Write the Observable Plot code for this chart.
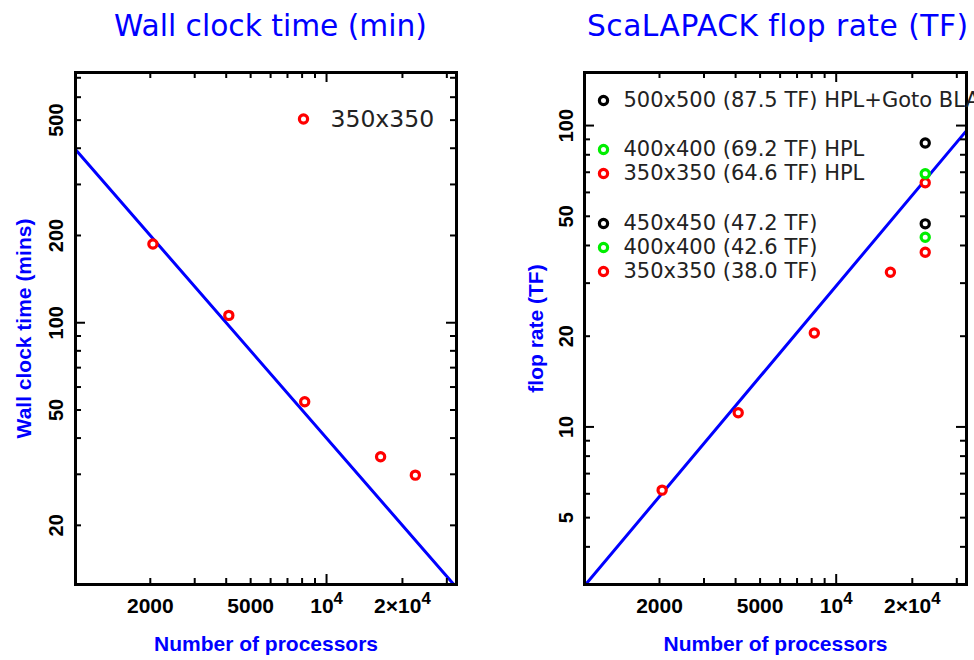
<!DOCTYPE html>
<html><head><meta charset="utf-8">
<script src="https://cdn.jsdelivr.net/npm/d3@7"></script>
<script src="https://cdn.jsdelivr.net/npm/@observablehq/plot@0.6"></script>
<style>
html,body{margin:0;padding:0;background:#fff;overflow:hidden;}
#wrap{position:relative;width:974px;height:660px;overflow:hidden;background:#fff;}
.title{position:absolute;top:11px;font-family:"DejaVu Sans",sans-serif;font-size:29.7px;line-height:1;color:#0000ff;white-space:nowrap;}
.panel{position:absolute;top:0;}
</style></head><body><div id="wrap"></div>
<script>
// ---------- data ----------
const xDomain = [1010, 32768];
const xMajorTicks = [10000];
const xMinorTicks = [2000, 3000, 4000, 5000, 6000, 7000, 8000, 9000, 20000, 30000];
const xTickValues = [2000, 5000, 10000, 20000];
const xTickText = ["2000", "5000", "10^4", "2×10^4"];

const wallDomain = [12.5, 730];
const wallMajorTicks = [100];
const wallMinorTicks = [20, 30, 40, 50, 60, 70, 80, 90, 200, 300, 400, 500, 600, 700];
const wallTickValues = [20, 50, 100, 200, 500];

const flopDomain = [3, 150];
const flopMajorTicks = [10, 100];
const flopMinorTicks = [4, 5, 6, 7, 8, 9, 20, 30, 40, 50, 60, 70, 80, 90];
const flopTickValues = [5, 10, 20, 50, 100];

const wallProcs = [2048, 4096, 8192, 16384, 22500];
const wallMins = [187, 106, 53.4, 34.5, 29.8];

const flopProcs = [2048, 4096, 8192, 16384, 22500, 22500, 22500, 22500, 22500, 22500];
const flopTF = [6.17, 11.15, 20.5, 32.6, 38.0, 42.6, 47.2, 64.6, 69.2, 87.5];
const flopGrid = ["350x350", "350x350", "350x350", "350x350", "350x350", "400x400", "450x450", "350x350", "400x400", "500x500"];

const idealProcs = [1010, 32768];
const idealMins = [396, 12.2];
const idealTF = [2.97, 96.2];

const gridNames = ["350x350", "400x400", "450x450", "500x500"];
const gridColors = ["#ff0000", "#00ee00", "#000000", "#000000"];

const wallLegendLabels = ["350x350"];
const wallLegendGrid = ["350x350"];
const flopLegendLabels = ["500x500 (87.5 TF) HPL+Goto BLAS", "400x400 (69.2 TF) HPL", "350x350 (64.6 TF) HPL",
  "450x450 (47.2 TF)", "400x400 (42.6 TF)", "350x350 (38.0 TF)"];
const flopLegendGrid = ["500x500", "400x400", "350x350", "450x450", "400x400", "350x350"];

const titles = ["Wall clock time (min)", "ScaLAPACK flop rate (TF)"];
const yLabels = ["Wall clock time (mins)", "flop rate (TF)"];
const xLabel = "Number of processors";

// ---------- layout ----------
const W = 487, H = 660, MT = 72, MB = 76;
const FRAME_H = H - MT - MB;
const BLUE = "#0000ff";
const tickFont = {fontFamily: "Liberation Sans, Arial, sans-serif", fontWeight: "bold", fill: "black"};

function frameTicks(fw, xMaj, xMin, yMaj, yMin) {
  const fh = FRAME_H, big = 10, small = 6;
  const o = {stroke: "black", strokeWidth: 2};
  return [
    Plot.tickX(xMaj, {x: d => d, insetTop: fh - big, ...o}),
    Plot.tickX(xMin, {x: d => d, insetTop: fh - small, ...o}),
    Plot.tickX(xMaj, {x: d => d, insetBottom: fh - big, ...o}),
    Plot.tickX(xMin, {x: d => d, insetBottom: fh - small, ...o}),
    Plot.tickY(yMaj, {y: d => d, insetRight: fw - big, ...o}),
    Plot.tickY(yMin, {y: d => d, insetRight: fw - small, ...o}),
    Plot.tickY(yMaj, {y: d => d, insetLeft: fw - big, ...o}),
    Plot.tickY(yMin, {y: d => d, insetLeft: fw - small, ...o})
  ];
}

function panel({ml, mr, yDomain, yMaj, yMin, yTicks, yLabel, yTickDx, yLabelDx, points, ideal, legend, legendFont, legendDots, legendTexts}) {
  const fw = W - ml - mr;
  const dotStyle = {r: 4.1, fill: "white", strokeWidth: 3.2};
  const svg = Plot.plot({
    width: W, height: H,
    marginLeft: ml, marginRight: mr, marginTop: MT, marginBottom: MB,
    x: {type: "log", domain: xDomain, axis: null},
    y: {type: "log", domain: yDomain, axis: null},
    color: {domain: gridNames, range: gridColors},
    style: {background: "white"},
    marks: [
      Plot.line(ideal, {x: "x", y: "y", stroke: BLUE, strokeWidth: 3, clip: true}),
      ...frameTicks(fw, xMajorTicks, xMinorTicks, yMaj, yMin),
      Plot.frame({stroke: "black", strokeWidth: 3}),
      Plot.dot(points, {x: "x", y: "y", stroke: "grid", ...dotStyle}),
      ...legend.map((e, i) => [
        Plot.dot([e], {frameAnchor: "top-left", dx: legendDots[i][0], dy: legendDots[i][1], stroke: "grid", ...dotStyle}),
        Plot.text([e], {frameAnchor: "top-left", dx: legendTexts[0], dy: legendDots[i][1], text: "label",
          textAnchor: "start", lineAnchor: "middle", fontSize: legendFont, fill: "#222",
          fontFamily: "DejaVu Sans, sans-serif"})
      ]).flat(),
      Plot.text(xTickValues, {x: d => d, text: (d, i) => xTickText[i], frameAnchor: "bottom", dy: 28,
        lineAnchor: "bottom", textAnchor: "middle", fontSize: 21, ...tickFont}),
      Plot.text(yTicks, {y: d => d, text: d => String(d), frameAnchor: "left", dx: yTickDx, rotate: -90,
        lineAnchor: "bottom", textAnchor: "middle", fontSize: 20, ...tickFont}),
      Plot.text([xLabel], {frameAnchor: "bottom", dy: 66, lineAnchor: "bottom", textAnchor: "middle",
        fontSize: 21, fontWeight: "bold", fill: BLUE, fontFamily: "Liberation Sans, Arial, sans-serif"}),
      Plot.text([yLabel], {frameAnchor: "left", dx: yLabelDx, rotate: -90, lineAnchor: "bottom", textAnchor: "middle",
        fontSize: 21, fontWeight: "bold", fill: BLUE, fontFamily: "Liberation Sans, Arial, sans-serif"})
    ]
  });
  // superscripts for 10^4 style labels
  d3.select(svg).selectAll("text").each(function () {
    const t = this.textContent;
    const m = t.match(/^(.*)\^(\d+)$/);
    if (m && this.childElementCount === 0) {
      this.textContent = "";
      const sel = d3.select(this);
      sel.append("tspan").text(m[1]);
      sel.append("tspan").attr("dy", "-0.5em").attr("font-size", "0.8em").text(m[2]);
    }
  });
  return svg;
}

const wrap = document.getElementById("wrap");

const leftPoints = wallProcs.map((x, i) => ({x, y: wallMins[i], grid: "350x350"}));
const leftIdeal = idealProcs.map((x, i) => ({x, y: idealMins[i]}));
const leftLegend = wallLegendLabels.map((label, i) => ({label, grid: wallLegendGrid[i]}));
const left = panel({
  ml: 75, mr: 31, yDomain: wallDomain, yMaj: wallMajorTicks, yMin: wallMinorTicks, yTicks: wallTickValues,
  yLabel: yLabels[0], yTickDx: -13, yLabelDx: -45, points: leftPoints, ideal: leftIdeal,
  legend: leftLegend, legendFont: 23.5, legendDots: [[228, 46.5]], legendTexts: [255]
});

const rightPoints = flopProcs.map((x, i) => ({x, y: flopTF[i], grid: flopGrid[i]}));
const rightIdeal = idealProcs.map((x, i) => ({x, y: idealTF[i]}));
const rightLegend = flopLegendLabels.map((label, i) => ({label, grid: flopLegendGrid[i]}));
const rowDy = [28, 77, 101, 151, 175, 199];
const right = panel({
  ml: 97, mr: 8, yDomain: flopDomain, yMaj: flopMajorTicks, yMin: flopMinorTicks, yTicks: flopTickValues,
  yLabel: yLabels[1], yTickDx: -12, yLabelDx: -42, points: rightPoints, ideal: rightIdeal,
  legend: rightLegend, legendFont: 21, legendDots: rowDy.map(d => [19, d]), legendTexts: [39]
});

left.classList.add("panel"); left.style.left = "0px";
right.classList.add("panel"); right.style.left = W + "px";
wrap.appendChild(left);
wrap.appendChild(right);

const t1 = document.createElement("div"); t1.className = "title"; t1.style.left = "114px"; t1.textContent = titles[0];
const t2 = document.createElement("div"); t2.className = "title"; t2.style.left = "587px"; t2.style.letterSpacing = "0.5px"; t2.textContent = titles[1];
wrap.appendChild(t1); wrap.appendChild(t2);
</script></body></html>
